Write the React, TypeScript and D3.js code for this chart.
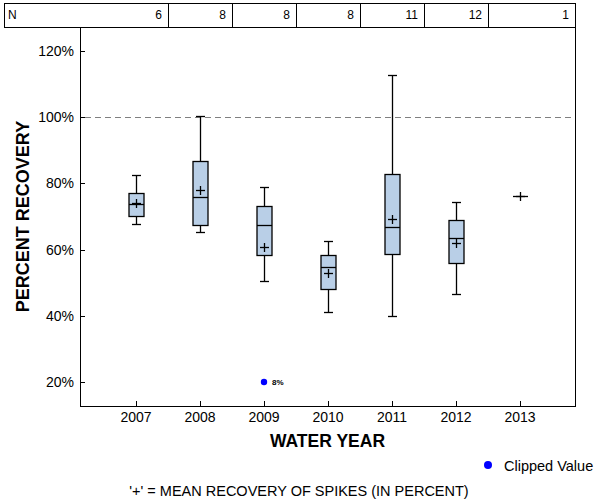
import React from "react";
import * as d3 from "d3";

const years = [2007, 2008, 2009, 2010, 2011, 2012, 2013];
const nValues = [6, 8, 8, 8, 11, 12, 1];
const whiskerLow = [67.6, 65.3, 50.4, 41.1, 39.9, 46.5, 76.1];
const q1 = [70.1, 67.3, 58.3, 48.0, 58.7, 56.0, 76.1];
const median = [73.8, 75.8, 67.3, 54.7, 66.7, 63.4, 76.1];
const q3 = [77.0, 86.7, 73.1, 58.3, 82.8, 68.9, 76.1];
const whiskerHigh = [82.5, 100.3, 78.8, 62.5, 112.7, 74.3, 76.1];
const means = [74.0, 78.1, 60.7, 53.0, 69.2, 61.9, 76.1];
const yTicks = [20, 40, 60, 80, 100, 120];
const clippedYears = [2009];
const clippedValues = [8];
const clippedShownAt = [20];
const referenceLine = 100;

const FONT = "'Liberation Sans', Arial, Helvetica, sans-serif";

export default function App() {
  const left = 80, right = 575, top = 27, bottom = 406;
  const tableTop = 3, tableLeft = 4;
  const x = d3.scaleLinear().domain([2007, 2013]).range([136, 520]);
  const y = d3.scaleLinear().domain([12.75, 127.25]).range([bottom, top]);
  const bw = 15;
  const cap = 4.5;
  const cr = 4.5;
  const tick = 5;

  const dividers = years.slice(0, -1).map((yr) => (x(yr) + x(yr + 1)) / 2);
  const cellRights = [...dividers, right];

  return (
    <svg width={600} height={500} style={{ position: "absolute", left: 0, top: 0, background: "#fff" }} fontFamily={FONT}>
      {/* N table */}
      <rect x={tableLeft + 0.5} y={tableTop + 0.5} width={right - tableLeft} height={top - tableTop} fill="none" stroke="#000" />
      {dividers.map((d, i) => (
        <line key={"dv" + i} x1={Math.round(d) + 0.5} x2={Math.round(d) + 0.5} y1={tableTop} y2={top} stroke="#000" />
      ))}
      <text x={8} y={19} fontSize={12} fill="#000">N</text>
      {nValues.map((n, i) => (
        <text key={"n" + i} x={cellRights[i] - 6} y={19} fontSize={12} textAnchor="end" fill="#000">{n}</text>
      ))}

      {/* plot frame */}
      <rect x={left + 0.5} y={top + 0.5} width={right - left} height={bottom - top} fill="none" stroke="#000" />

      {/* reference line */}
      <line x1={left + tick} x2={right} y1={Math.round(y(referenceLine)) + 0.5} y2={Math.round(y(referenceLine)) + 0.5} stroke="#808080" strokeDasharray="6,4" />

      {/* y ticks */}
      {yTicks.map((t) => (
        <g key={"yt" + t}>
          <line x1={left} x2={left + tick} y1={Math.round(y(t)) + 0.5} y2={Math.round(y(t)) + 0.5} stroke="#000" />
          <text x={left - 6} y={y(t) + 5} fontSize={14} textAnchor="end" fill="#000">{t}%</text>
        </g>
      ))}
      {/* x ticks */}
      {years.map((yr) => (
        <g key={"xt" + yr}>
          <line x1={Math.round(x(yr)) + 0.5} x2={Math.round(x(yr)) + 0.5} y1={bottom - tick} y2={bottom} stroke="#000" />
          <text x={x(yr)} y={422} fontSize={14} textAnchor="middle" fill="#000">{yr}</text>
        </g>
      ))}

      {/* boxes */}
      {years.map((yr, i) => {
        const cx = Math.round(x(yr)) + 0.5;
        const yq1 = Math.round(y(q1[i])) + 0.5;
        const yq3 = Math.round(y(q3[i])) + 0.5;
        const ymed = Math.round(y(median[i])) + 0.5;
        const ylo = Math.round(y(whiskerLow[i])) + 0.5;
        const yhi = Math.round(y(whiskerHigh[i])) + 0.5;
        const ym = Math.round(y(means[i])) + 0.5;
        return (
          <g key={"b" + yr} stroke="#000" strokeWidth={1.3}>
            {yhi < yq3 && (
              <>
                <line x1={cx} x2={cx} y1={yhi} y2={yq3} />
                <line x1={cx - cap} x2={cx + cap} y1={yhi} y2={yhi} />
              </>
            )}
            {ylo > yq1 && (
              <>
                <line x1={cx} x2={cx} y1={yq1} y2={ylo} />
                <line x1={cx - cap} x2={cx + cap} y1={ylo} y2={ylo} />
              </>
            )}
            {yq1 > yq3 && (
              <rect x={cx - bw / 2} y={yq3} width={bw} height={yq1 - yq3} fill="#b9cfe7" />
            )}
            <line x1={cx - bw / 2} x2={cx + bw / 2} y1={ymed} y2={ymed} />
            <line x1={cx - cr} x2={cx + cr} y1={ym} y2={ym} />
            <line x1={cx} x2={cx} y1={ym - cr} y2={ym + cr} />
          </g>
        );
      })}

      {/* clipped values */}
      {clippedYears.map((yr, i) => (
        <g key={"c" + yr}>
          <circle cx={x(yr)} cy={y(clippedShownAt[i])} r={3.2} fill="#0000ff" />
          <text x={x(yr) + 8} y={y(clippedShownAt[i]) + 3} fontSize={8} fontWeight="bold" fill="#000">{clippedValues[i]}%</text>
        </g>
      ))}

      {/* axis titles */}
      <text x={(left + right) / 2} y={447} fontSize={17.5} fontWeight="bold" textAnchor="middle" fill="#000">WATER YEAR</text>
      <text transform={`translate(29, ${(top + bottom) / 2}) rotate(-90)`} fontSize={18} fontWeight="bold" textAnchor="middle" fill="#000">PERCENT RECOVERY</text>

      {/* legend */}
      <circle cx={488} cy={465} r={4} fill="#0000ff" />
      <text x={504} y={471} fontSize={14.5} fill="#000">Clipped Value</text>

      <text x={299} y={496} fontSize={14.5} textAnchor="middle" fill="#000">'+' = MEAN RECOVERY OF SPIKES (IN PERCENT)</text>
    </svg>
  );
}
